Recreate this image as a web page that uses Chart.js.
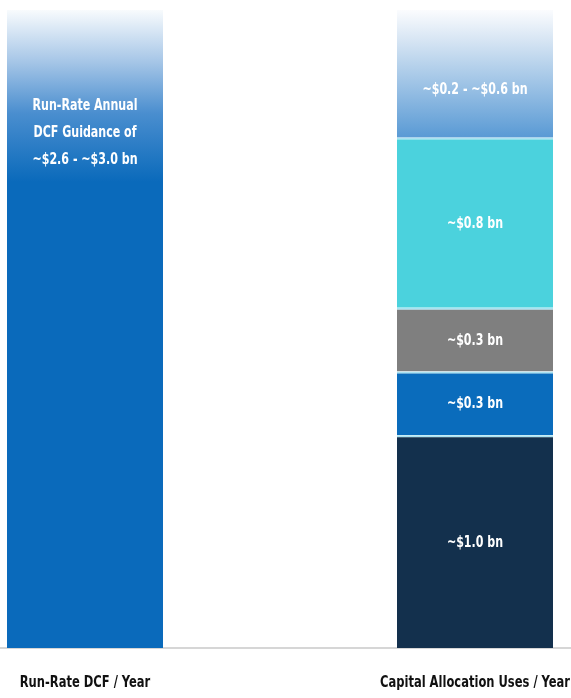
<!DOCTYPE html>
<html>
<head>
<meta charset="utf-8">
<script src="https://cdn.jsdelivr.net/npm/chart.js@4"></script>
<style>
  html, body { margin: 0; padding: 0; background: #fff; overflow: hidden; }
  #wrap { position: absolute; left: -110px; top: 0; width: 780px; height: 698px; }
</style>
</head>
<body>
<div id="wrap"><canvas id="dcfChart"></canvas></div>
<script>
var categories = ['Run-Rate DCF / Year', 'Capital Allocation Uses / Year'];
var dcfValues = [3.0, null];
var dcfLabel = ['Run-Rate Annual', 'DCF Guidance of', '~$2.6 - ~$3.0 bn'];

// capital allocation uses, bottom to top
var useValues = [1.0, 0.3, 0.3, 0.8, 0.6];
var useLabels = ['~$1.0 bn', '~$0.3 bn', '~$0.3 bn', '~$0.8 bn', '~$0.2 - ~$0.6 bn'];
var useColors = ['#13304d', '#0a6cbc', '#7f7f7f', '#4bd2dd', 'fade'];

var fontFamily = '"DejaVu Sans Condensed", "DejaVu Sans", sans-serif';

// vertical fade from white at the top of the plot
function fadeFill(ctx, len, stops) {
  var chart = ctx.chart;
  var area = chart.chartArea;
  if (!area) return stops[stops.length - 1][1];
  var g = chart.ctx.createLinearGradient(0, area.top, 0, area.top + len);
  stops.forEach(function(s) { g.addColorStop(s[0], s[1]); });
  return g;
}

// squeeze text horizontally, the deck font is a narrow one
function narrowText(c, text, x, y, sx) {
  c.save();
  c.translate(x, y);
  c.scale(sx, 1);
  c.fillText(text, 0, 0);
  c.restore();
}

var datasets = [{
  label: 'DCF',
  data: dcfValues,
  backgroundColor: function(ctx) {
    return fadeFill(ctx, 172, [[0, '#f8fbfd'], [0.3, '#a6c6e7'], [0.6, '#4a8ecf'], [1, '#0a6abb']]);
  },
  borderWidth: 0,
  innerText: dcfLabel
}];

useValues.forEach(function(v, i) {
  datasets.push({
    label: useLabels[i],
    data: [null, v],
    backgroundColor: useColors[i] == 'fade'
      ? function(ctx) { return fadeFill(ctx, 126, [[0, '#fbfcfe'], [0.25, '#d5e4f3'], [1, '#5b9bd5']]); }
      : useColors[i],
    borderColor: '#a9e3f2',
    borderWidth: i < useValues.length - 1 ? { top: 2 } : 0,
    borderSkipped: false,
    innerText: [useLabels[i]]
  });
});

// white text inside each bar segment + category names under the axis
var barText = {
  id: 'barText',
  afterDatasetsDraw: function(chart) {
    var c = chart.ctx;
    c.save();
    c.fillStyle = '#ffffff';
    c.font = 'bold 15px ' + fontFamily;
    c.textAlign = 'center';
    c.textBaseline = 'middle';
    chart.data.datasets.forEach(function(ds, di) {
      var meta = chart.getDatasetMeta(di);
      meta.data.forEach(function(el, i) {
        if (ds.data[i] == null) return;
        var lines = ds.innerText;
        var h = el.base - el.y;
        var cy;
        if (di == 0) cy = el.y + h * 0.193;
        else if (di == chart.data.datasets.length - 1) cy = el.y + h * 0.63;
        else cy = el.y + h / 2 + 1;
        lines.forEach(function(t, k) {
          narrowText(c, t, el.x, cy + (k - (lines.length - 1) / 2) * 27, 0.82);
        });
      });
    });

    var xs = chart.scales.x;
    c.fillStyle = '#111111';
    c.font = 'bold 16px ' + fontFamily;
    chart.data.labels.forEach(function(lbl, i) {
      narrowText(c, lbl, xs.getPixelForTick(i), chart.chartArea.bottom + 35, 0.8);
    });
    c.restore();
  }
};

new Chart(document.getElementById('dcfChart'), {
  type: 'bar',
  data: { labels: categories, datasets: datasets },
  options: {
    responsive: true,
    maintainAspectRatio: false,
    animation: false,
    layout: { padding: { top: 10, bottom: 42, left: 0, right: 0 } },
    plugins: { legend: { display: false }, tooltip: { enabled: false } },
    datasets: { bar: { categoryPercentage: 1, barPercentage: 0.4 } },
    scales: {
      x: {
        stacked: true,
        grid: { display: false },
        border: { display: true, color: '#d6d6d6', width: 2 },
        ticks: { display: false }
      },
      y: {
        stacked: true,
        display: false,
        min: 0,
        max: 3.0
      }
    }
  },
  plugins: [barText]
});
</script>
</body>
</html>
